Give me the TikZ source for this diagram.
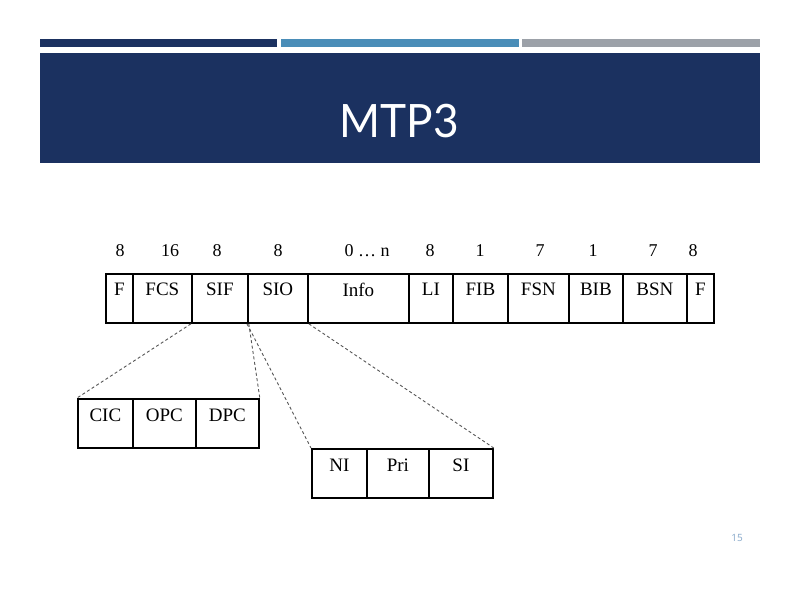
\documentclass[tikz,border=0pt]{standalone}
\usepackage{fontspec}
\setmainfont{Liberation Serif}
\newfontfamily\titlefont{Lato}
\newfontfamily\smallsans{Open Sans}
\definecolor{navy}{HTML}{1B3160}
\definecolor{barblue}{HTML}{4A8DB8}
\definecolor{bargray}{HTML}{9CA1A8}
\definecolor{pagenum}{HTML}{86A8CA}
\definecolor{dashgray}{HTML}{555555}
\begin{document}
\begin{tikzpicture}[x=1pt,y=-1pt,
  cell/.style={draw=black,line width=1.8pt,minimum height=49pt,inner sep=0pt,anchor=north west},
  celltext/.style={font=\fontsize{19}{19}\selectfont,inner sep=0pt},
  bits/.style={font=\fontsize{18}{18}\selectfont,inner sep=0pt},
  zoomline/.style={draw=dashgray,line width=0.9pt,dash pattern=on 3pt off 2.5pt}]
\useasboundingbox (0,0) rectangle (800,600);
\fill[white] (0,0) rectangle (800,600);
% header bars
\fill[navy] (40,39) rectangle (277,47);
\fill[barblue] (281,39) rectangle (519,47);
\fill[bargray] (522,39) rectangle (760,47);
\fill[navy] (40,53) rectangle (760,163);
\node[anchor=base,text=white,inner sep=0pt,xscale=0.96,font=\titlefont\fontsize{46}{46}\selectfont] (title) at (399,137) {MTP3};
% main frame
\foreach \n/\a/\b/\t in {fa/105/132/F, fcs/132/191/FCS, sif/191/247/SIF, sio/247/307/SIO, info/307/408/Info, li/408/452/LI, fib/452/507/FIB, fsn/507/568/FSN, bib/568/622/BIB, bsn/622/686/BSN, fb/686/713/F}{
  \node[cell,minimum width={\b-\a}] (\n) at (\a,273) {};
  \node[celltext] (\n-t) at ([yshift=-16.5pt]\n.north) {\t};
}
% bit counts
\foreach \n/\x/\t in {b1/120/8, b2/170/16, b3/217/8, b4/278/8, b5/367/{0 … n}, b6/430/8, b7/480/1, b8/540/7, b9/593/1, b10/653/7, b11/693/8}{
  \node[bits] (\n) at (\x,251) {\t};
}
% sub-fields
\foreach \n/\a/\b/\t in {cic/77/132/CIC, opc/132/195/OPC, dpc/195/258/DPC}{
  \node[cell,minimum width={\b-\a}] (\n) at (\a,398) {};
  \node[celltext] (\n-t) at ([yshift=-17pt]\n.north) {\t};
}
\foreach \n/\a/\b/\t in {ni/311/366/NI, pri/366/428/Pri, si/428/492/SI}{
  \node[cell,minimum width={\b-\a}] (\n) at (\a,448) {};
  \node[celltext] (\n-t) at ([yshift=-17pt]\n.north) {\t};
}
% dashed projection lines
\draw[zoomline] (sif.south west) -- (cic.north west);
\draw[zoomline] (sif.south east) -- (dpc.north east);
\draw[zoomline] (sio.south west) -- (ni.north west);
\draw[zoomline] (sio.south east) -- (si.north east);
% page number
\node[text=pagenum,inner sep=0pt,font=\smallsans\fontsize{10}{10}\selectfont] (page) at (737,538) {15};
\end{tikzpicture}
\end{document}
